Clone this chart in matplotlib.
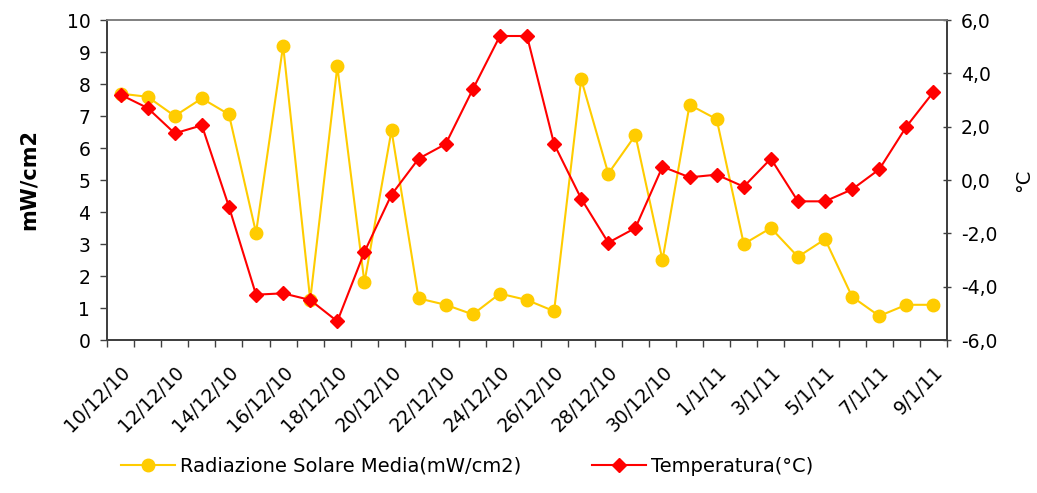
import matplotlib.pyplot as plt
import matplotlib.transforms as mtransforms
from matplotlib.ticker import FixedLocator, FuncFormatter

dates = ['10/12/10', '11/12/10', '12/12/10', '13/12/10', '14/12/10', '15/12/10', '16/12/10',
         '17/12/10', '18/12/10', '19/12/10', '20/12/10', '21/12/10', '22/12/10', '23/12/10',
         '24/12/10', '25/12/10', '26/12/10', '27/12/10', '28/12/10', '29/12/10', '30/12/10',
         '31/12/10', '1/1/11', '2/1/11', '3/1/11', '4/1/11', '5/1/11', '6/1/11', '7/1/11',
         '8/1/11', '9/1/11']
radiazione = [7.7, 7.6, 7.0, 7.55, 7.05, 3.35, 9.2, 1.25, 8.55, 1.8, 6.55, 1.3, 1.1, 0.8,
              1.45, 1.25, 0.9, 8.15, 5.2, 6.4, 2.5, 7.35, 6.9, 3.0, 3.5, 2.6, 3.15, 1.35,
              0.75, 1.1, 1.1]
temperatura = [3.2, 2.7, 1.75, 2.05, -1.0, -4.3, -4.25, -4.5, -5.3, -2.7, -0.55, 0.8, 1.35,
               3.4, 5.4, 5.4, 1.35, -0.7, -2.35, -1.8, 0.5, 0.1, 0.2, -0.25, 0.8, -0.8, -0.8,
               -0.35, 0.4, 2.0, 3.3]

YELLOW = '#FFCC00'
RED = '#FF0000'

plt.rcParams['font.family'] = 'DejaVu Sans'

fig = plt.figure(figsize=(10.37, 4.93), dpi=100)
ax = fig.add_axes([107/1037, 1-340/493, 840/1037, 320/493])
ax2 = ax.twinx()

x = list(range(len(dates)))
l1, = ax.plot(x, radiazione, color=YELLOW, lw=1.5, marker='o', ms=9,
              label='Radiazione Solare Media(mW/cm2)', zorder=3)
l2, = ax2.plot(x, temperatura, color=RED, lw=1.5, marker='D', ms=7.3,
               label='Temperatura(°C)', zorder=3)

ax.set_xlim(-0.5, len(dates) - 0.5)
ax.set_ylim(0, 10)
ax.set_yticks(range(0, 11))
ax2.set_ylim(-6, 6)
ax2.set_yticks(range(-6, 7, 2))
ax2.yaxis.set_major_formatter(FuncFormatter(lambda v, p: f'{v:.1f}'.replace('.', ',')))

ax.xaxis.set_major_locator(FixedLocator(x[::2]))
ax.set_xticklabels(dates[::2], rotation=45, ha='right', va='top', rotation_mode='anchor')
shift = mtransforms.ScaledTranslation(-0.13, -0.03, fig.dpi_scale_trans)
for lab in ax.get_xticklabels():
    lab.set_transform(lab.get_transform() + shift)
ax.xaxis.set_minor_locator(FixedLocator([i - 0.5 for i in range(len(dates) + 1)]))
ax.tick_params(axis='x', which='major', length=0, pad=16, labelsize=13.5)
ax.tick_params(axis='x', which='minor', length=5, width=1, color='#404040')
ax.tick_params(axis='y', length=5, width=1, color='#404040', labelsize=13.5, pad=7)
ax2.tick_params(axis='y', length=6, width=1, color='#404040', labelsize=13.5,
                direction='inout', pad=7)

for a in (ax, ax2):
    for s in ('left', 'bottom', 'right'):
        a.spines[s].set_color('#404040')
        a.spines[s].set_linewidth(1.3)
    a.spines['top'].set_color('#808080')
    a.spines['top'].set_linewidth(1.2)

ax.set_ylabel('mW/cm2', fontsize=15, fontweight='bold', labelpad=20)
ax2.set_ylabel('°C', fontsize=14, rotation=90, labelpad=12)

fig.legend([l1, l2], [l1.get_label(), l2.get_label()], loc='center',
           bbox_to_anchor=(467/1037, 1-466/493), ncol=2, frameon=False,
           fontsize=14, columnspacing=3.6, handlelength=2.8, handletextpad=0.26)

fig.savefig('out.png', dpi=100)
